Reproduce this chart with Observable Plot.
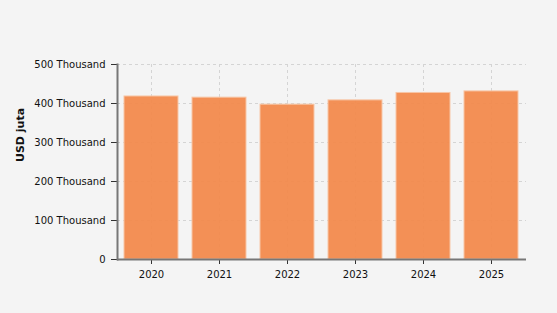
<!DOCTYPE html>
<html><head><meta charset="utf-8">
<script src="https://cdn.jsdelivr.net/npm/d3@7"></script>
<script src="https://cdn.jsdelivr.net/npm/@observablehq/plot@0.6"></script>
<style>
body{margin:0;background:#f4f4f4;}
#chart svg{display:block;}
</style></head>
<body><div id="chart"></div>
<script>
const years = ["2020","2021","2022","2023","2024","2025"];
const values = [418000, 415000, 397000, 408000, 427000, 431000];
const yTicks = [0, 100000, 200000, 300000, 400000, 500000];
const yLabel = "USD juta";

const data = years.map((y, i) => ({year: y, value: values[i]}));
const fmt = d => d === 0 ? "0" : (d / 1000) + " Thousand";

const chart = Plot.plot({
  width: 557, height: 313,
  marginLeft: 117, marginRight: 31, marginTop: 64, marginBottom: 54,
  style: {background: "#f4f4f4", fontFamily: "DejaVu Sans, Verdana, sans-serif", fontSize: "10px", color: "#111"},
  x: {domain: years, paddingInner: 0.2, paddingOuter: 0.1, label: null},
  y: {domain: [0, 500000], label: null},
  marks: [
    Plot.ruleY(yTicks, {stroke: "#d4d4d4", strokeDasharray: "3,3", strokeWidth: 1}),
    Plot.ruleX(years, {stroke: "#d4d4d4", strokeDasharray: "3,3", strokeWidth: 1}),
    Plot.barY(data, {x: "year", y: "value", fill: "#f28a4d", fillOpacity: 0.95, stroke: "#f7c6a6", strokeWidth: 1}),
    Plot.axisY({ticks: yTicks, tickFormat: fmt, tickSize: 6, tickPadding: 6, stroke: "#333", strokeOpacity: 1, label: null}),
    Plot.axisX({tickSize: 5, tickPadding: 6, stroke: "#333", strokeOpacity: 1, label: null}),
    Plot.frame({anchor: "left", stroke: "#777", strokeWidth: 2}),
    Plot.ruleY([0], {stroke: "#777", strokeWidth: 2}),
    Plot.text([yLabel], {frameAnchor: "left", dx: -97, rotate: -90, fontWeight: "bold", fontSize: 11})
  ]
});
document.getElementById("chart").appendChild(chart);
</script></body></html>
